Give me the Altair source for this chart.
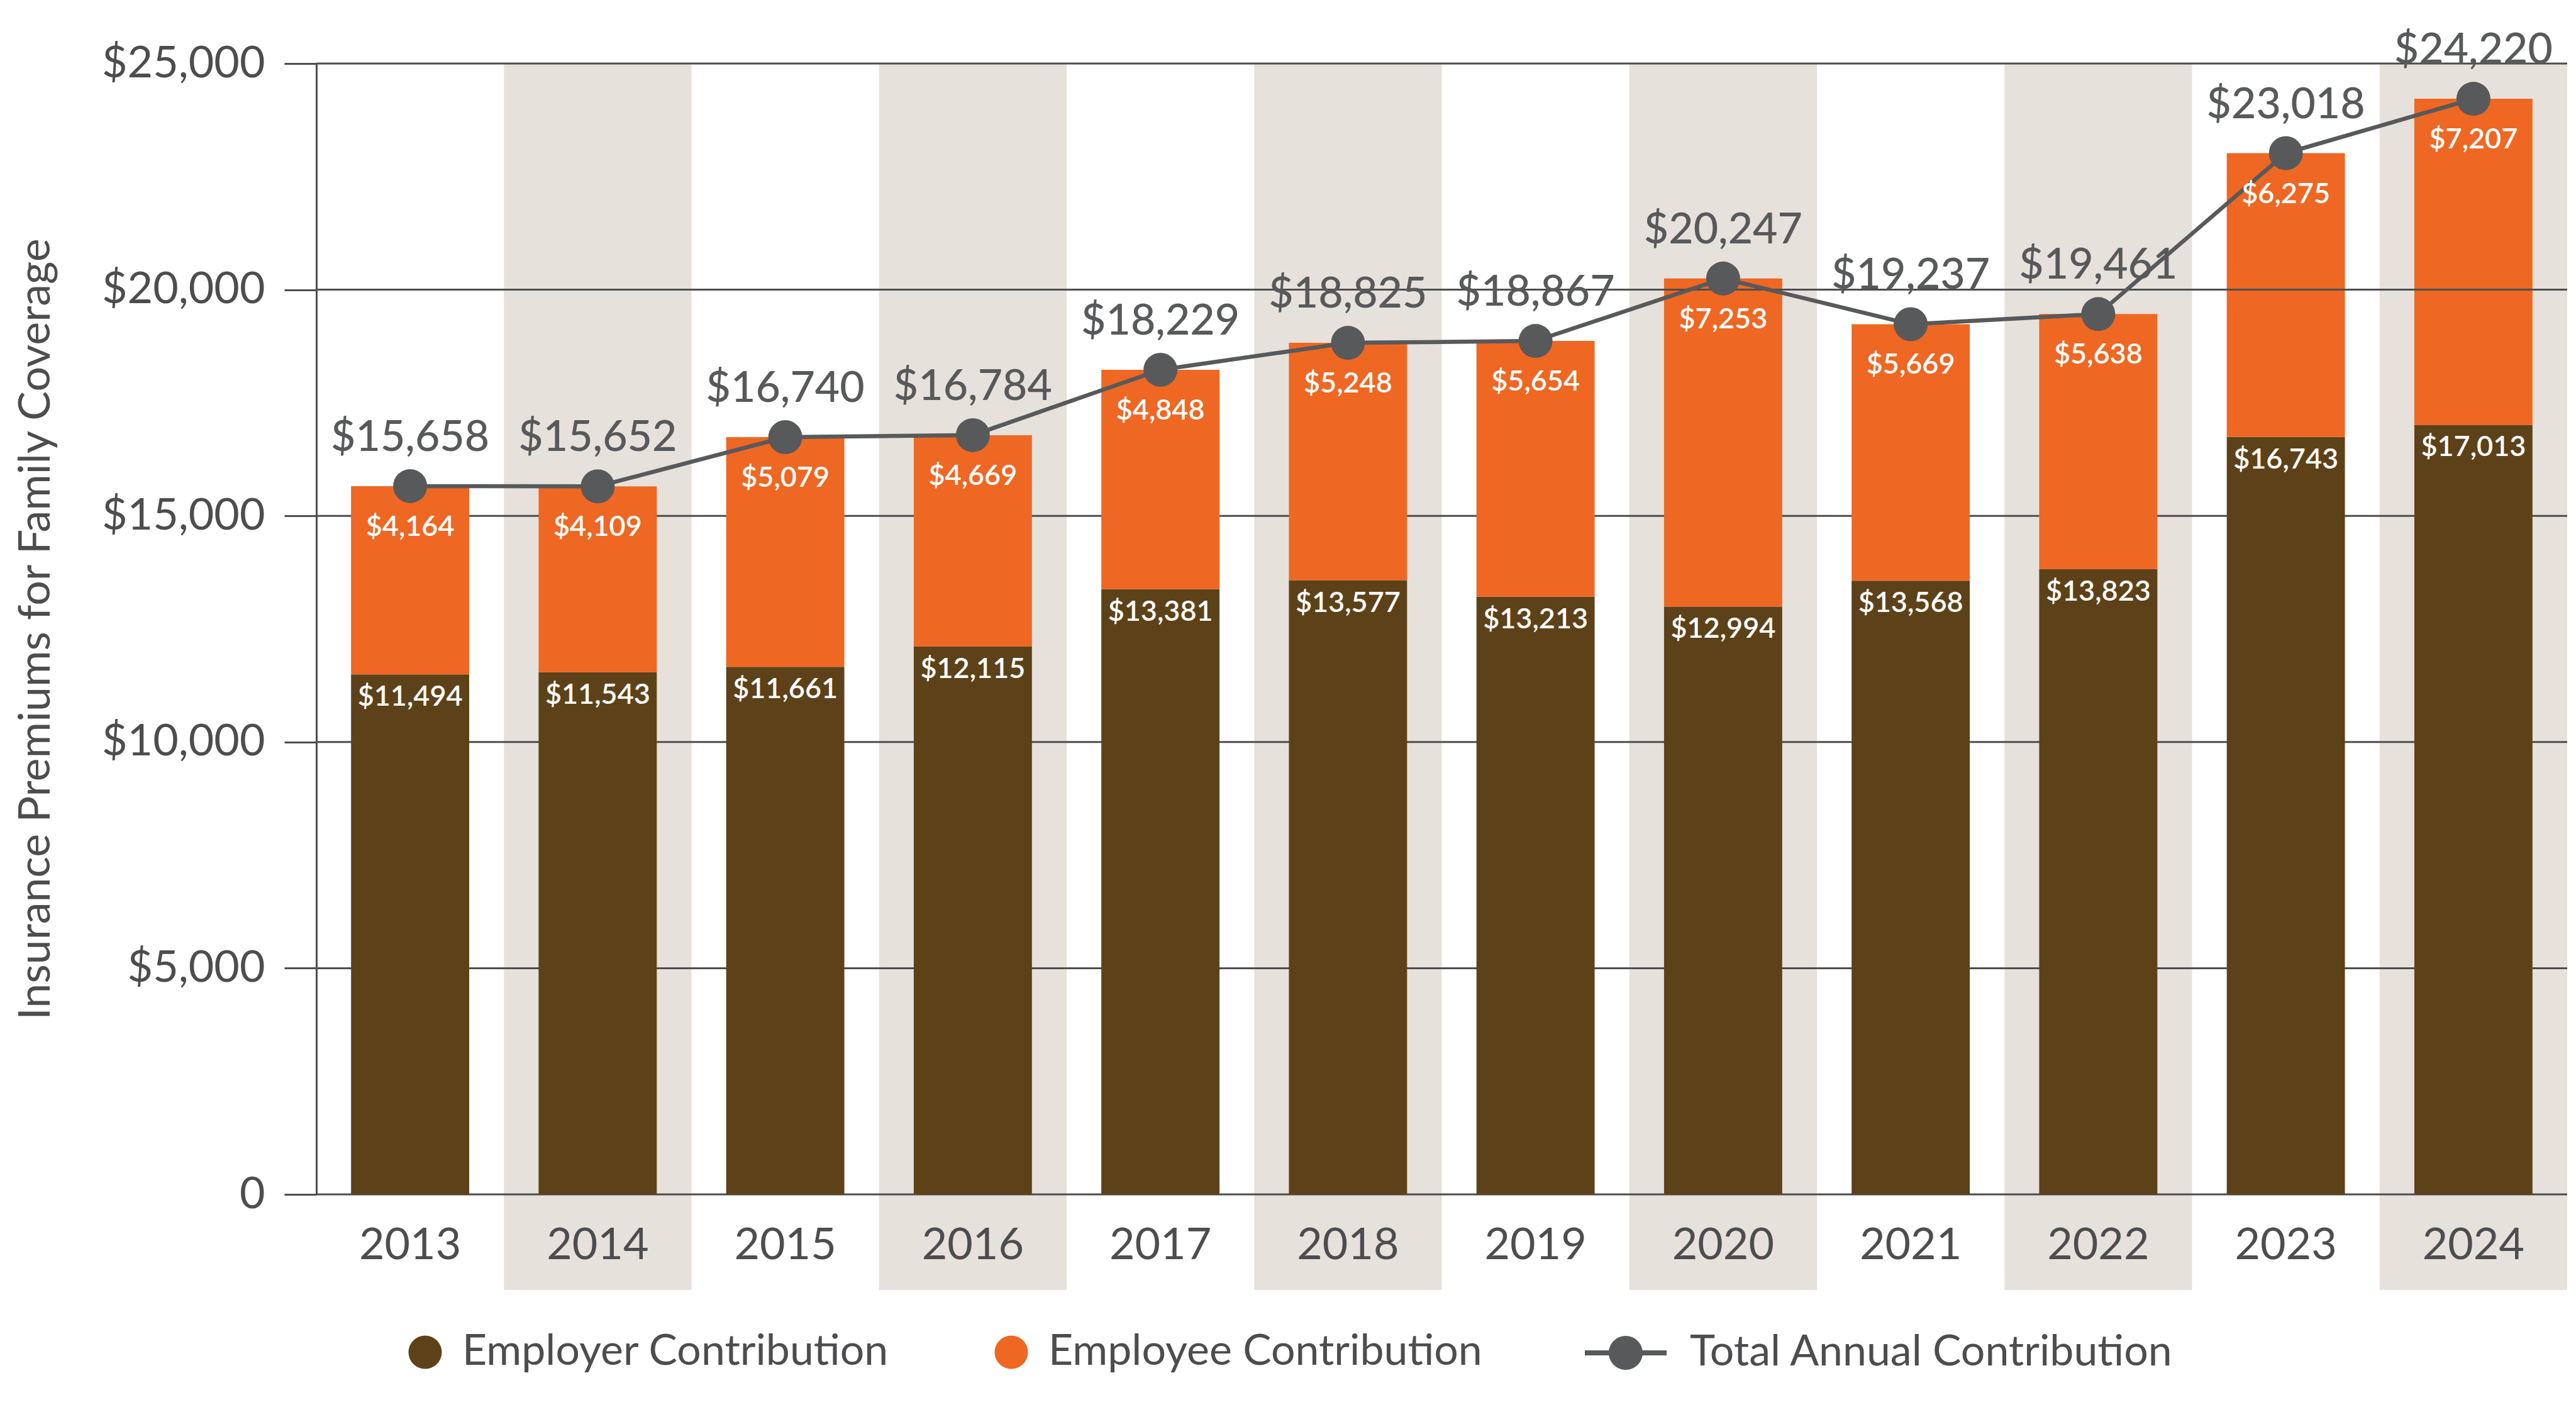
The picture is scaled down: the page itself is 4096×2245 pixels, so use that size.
import altair as alt
import pandas as pd

# ---------------- data ----------------
years = ["2013", "2014", "2015", "2016", "2017", "2018",
         "2019", "2020", "2021", "2022", "2023", "2024"]
employer = [11494, 11543, 11661, 12115, 13381, 13577, 13213, 12994, 13568, 13823, 16743, 17013]
employee = [4164, 4109, 5079, 4669, 4848, 5248, 5654, 7253, 5669, 5638, 6275, 7207]
total = [15658, 15652, 16740, 16784, 18229, 18825, 18867, 20247, 19237, 19461, 23018, 24220]
y_ticks = [0, 5000, 10000, 15000, 20000, 25000]
series_names = ["Employer Contribution", "Employee Contribution", "Total Annual Contribution"]
y_title = "Insurance Premiums for Family Coverage"

# ---------------- style ----------------
FONT = "Lato"
TEXT = "#4D4D4F"
GRID = "#4D4D4F"
LINE = "#58595B"
BROWN = "#5D4219"
ORANGE = "#EE6723"
BAND = "#E6E1DB"

W, H = 3579, 1798
PAD = {"left": 503, "top": 101, "right": 4096 - 503 - W, "bottom": 2245 - 101 - H}

wide = pd.DataFrame({
    "year": years,
    "employer": employer,
    "employee": employee,
    "total": total,
    "series": series_names[2],
})
wide["shade"] = [i % 2 == 1 for i in range(len(years))]

long = pd.DataFrame({
    "year": years * 2,
    "type": [series_names[0]] * len(years) + [series_names[1]] * len(years),
    "lo": [0] * len(years) + employer,
    "hi": employer + total,
})

grid_df = pd.DataFrame({"v": y_ticks})

x_enc = alt.X(
    "year:N",
    scale=alt.Scale(domain=years, paddingInner=0, paddingOuter=0),
    axis=alt.Axis(title=None, labelFontSize=70, labelFont=FONT, labelColor=TEXT,
                  labelPadding=47, ticks=False, domain=False, labelAngle=0, zindex=1),
)

y_scale = alt.Scale(domain=[0, 25000], nice=False)
y_axis = alt.Axis(
    values=y_ticks, grid=False, tickSize=51, tickWidth=3, tickColor=GRID,
    domainColor=GRID, domainWidth=3, labelPadding=31, labelFontSize=70,
    labelFont=FONT, labelColor=TEXT, labelLimit=600,
    labelExpr="datum.value == 0 ? '0' : '$' + format(datum.value, ',')",
    titleFontSize=70, titleFont=FONT, titleColor=TEXT, titleFontWeight="normal",
    titleX=-446, titleY=H / 2, titleAngle=270, titleAlign="center", titleBaseline="middle",
    titleLimit=3000,
)


def Y(field):
    return alt.Y(field, scale=y_scale, axis=y_axis, title=y_title)


bands = alt.Chart(wide).transform_filter("datum.shade").mark_rect(color=BAND).encode(
    x=x_enc, y=alt.value(0), y2=alt.value(H + 152)
)

grid = alt.Chart(grid_df).mark_rule(color=GRID, strokeWidth=3).encode(y=Y("v:Q"))
grid_top = alt.Chart(grid_df).transform_filter("datum.v == 20000").mark_rule(
    color=GRID, strokeWidth=3).encode(y=Y("v:Q"))

bars = alt.Chart(long).mark_bar(width=alt.RelativeBandSize(0.63)).encode(
    x=x_enc,
    y=Y("hi:Q"),
    y2="lo:Q",
    color=alt.Color(
        "type:N",
        scale=alt.Scale(domain=series_names[:2], range=[BROWN, ORANGE]),
        legend=alt.Legend(
            title=None, orient="none", legendX=139, legendY=2015, direction="horizontal",
            symbolType="circle", symbolSize=2809, symbolStrokeWidth=0,
            labelFontSize=68, labelFont=FONT, labelColor=TEXT, labelOffset=25,
            columnPadding=160, padding=0, labelLimit=3000,
        ),
    ),
)

line = alt.Chart(wide).mark_line(color=LINE, strokeWidth=6.5).encode(x=x_enc, y=Y("total:Q"))

total_path = ("M-1,-0.06L-0.4,-0.06L-0.4,0.06L-1,0.06Z "
              "M0.4,-0.06L1,-0.06L1,0.06L0.4,0.06Z "
              "M0.415,0A0.415,0.415 0 1,1 -0.415,0A0.415,0.415 0 1,1 0.415,0Z")

points = alt.Chart(wide).mark_circle(size=2916, opacity=1).encode(
    x=x_enc,
    y=Y("total:Q"),
    color=alt.Color(
        "series:N",
        scale=alt.Scale(domain=[series_names[2]], range=[LINE]),
        legend=alt.Legend(
            title=None, orient="none", legendX=2017, legendY=1985, direction="horizontal",
            symbolType=total_path, symbolSize=16900, symbolStrokeWidth=0,
            labelFontSize=68, labelFont=FONT, labelColor=TEXT, labelOffset=37,
            padding=0, labelLimit=3000,
        ),
    ),
)

emp_labels = alt.Chart(wide).mark_text(
    color="white", fontSize=45, font=FONT, fontWeight=600, baseline="middle", dy=36
).encode(x=x_enc, y=Y("employer:Q"), text=alt.Text("employer:Q", format="$,"))

ee_labels = alt.Chart(wide).mark_text(
    color="white", fontSize=45, font=FONT, fontWeight=600, baseline="middle", dy=65
).encode(x=x_enc, y=Y("total:Q"), text=alt.Text("employee:Q", format="$,"))

tot_labels = alt.Chart(wide).mark_text(
    color=LINE, fontSize=68, font=FONT, fontWeight=500, baseline="middle", dy=-76
).encode(x=x_enc, y=Y("total:Q"), text=alt.Text("total:Q", format="$,"))

chart = alt.layer(
    bands, grid, bars, grid_top, line, points, emp_labels, ee_labels, tot_labels
).resolve_scale(color="independent").properties(
    width=W, height=H, padding=PAD,
    autosize=alt.AutoSizeParams(type="none"),
    background="white",
).configure_view(stroke=None)

chart.save("out.html", embed_options={"renderer": "svg", "actions": False})
